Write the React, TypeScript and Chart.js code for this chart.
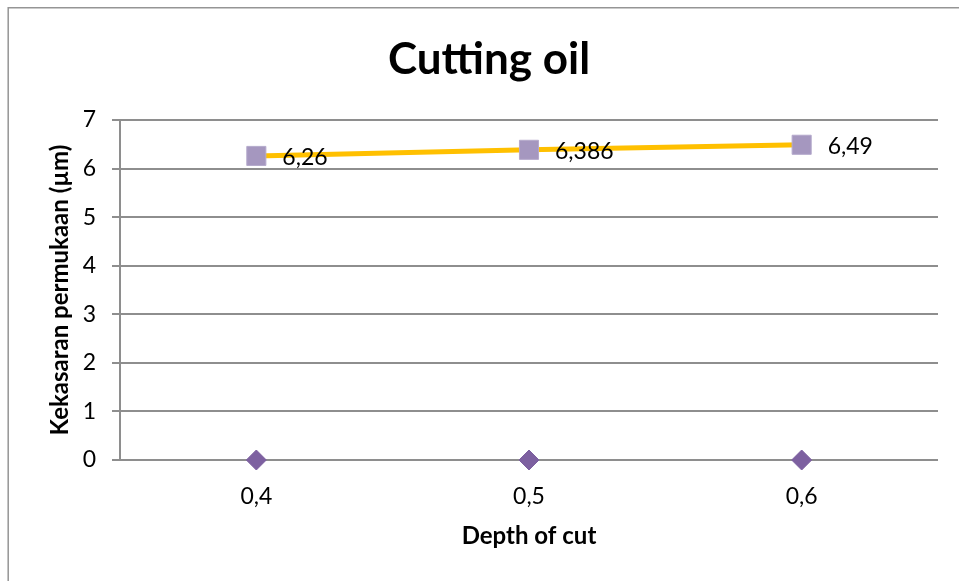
import React, { useEffect, useRef } from "react";
import { Chart, registerables } from "chart.js";

Chart.register(...registerables);

const categories = ["0,4", "0,5", "0,6"];
const seriesBase = [0, 0, 0];
const seriesCuttingOil = [6.26, 6.386, 6.49];
const chartTitle = "Cutting oil";
const xAxisTitle = "Depth of cut";
const yAxisTitle = "Kekasaran permukaan (µm)";
const yMin = 0;
const yMax = 7;
const yStep = 1;

const FONT = "Lato, 'Open Sans', 'DejaVu Sans', sans-serif";
const GRID = "#8e8e8e";

const fmt = (v: number) => String(v).replace(".", ",");

const framePlugin = {
  id: "frame",
  beforeDraw(chart: any) {
    const ctx = chart.ctx;
    ctx.save();
    ctx.fillStyle = "#ffffff";
    ctx.fillRect(0, 0, chart.width, chart.height);
    ctx.strokeStyle = "#959595";
    ctx.lineWidth = 1.5;
    ctx.beginPath();
    ctx.moveTo(8.2, chart.height + 5);
    ctx.lineTo(8.2, 7.7);
    ctx.lineTo(chart.width + 5, 7.7);
    ctx.stroke();
    ctx.restore();
  },
};

const labelPlugin = {
  id: "valueLabels",
  afterDatasetsDraw(chart: any) {
    const ctx = chart.ctx;
    const meta = chart.getDatasetMeta(1);
    const data = chart.data.datasets[1].data as number[];
    ctx.save();
    ctx.font = `23px ${FONT}`;
    ctx.fillStyle = "#000000";
    ctx.textAlign = "left";
    ctx.textBaseline = "middle";
    meta.data.forEach((pt: any, i: number) => {
      ctx.fillText(fmt(data[i]), pt.x + 26, pt.y + 2);
    });
    ctx.restore();
  },
};

export default function App() {
  const ref = useRef<HTMLCanvasElement | null>(null);

  useEffect(() => {
    if (!ref.current) return;
    const chart = new Chart(ref.current, {
      type: "line",
      data: {
        labels: categories,
        datasets: [
          {
            label: "Series1",
            data: seriesBase,
            showLine: false,
            clip: false,
            pointStyle: "rectRot",
            pointRadius: 10,
            pointHoverRadius: 10,
            pointBackgroundColor: "#7d60a0",
            pointBorderColor: "#7d60a0",
            pointBorderWidth: 1,
            borderColor: "#7d60a0",
          },
          {
            label: "Cutting oil",
            data: seriesCuttingOil,
            clip: false,
            borderColor: "#ffc000",
            borderWidth: 5,
            tension: 0,
            pointStyle: "rect",
            pointRadius: 13.5,
            pointHoverRadius: 13.5,
            pointBackgroundColor: "#a597bf",
            pointBorderColor: "#b5aacc",
            pointBorderWidth: 1,
          },
        ],
      },
      options: {
        animation: false,
        responsive: false,
        devicePixelRatio: 1,
        events: [],
        layout: { padding: 0 },
        plugins: {
          legend: { display: false },
          tooltip: { enabled: false },
          title: {
            display: true,
            text: chartTitle,
            color: "#000000",
            font: { family: FONT, size: 44, weight: "bold" },
            padding: { top: 33.6, bottom: 33.6 },
          },
        },
        scales: {
          x: {
            type: "category",
            offset: true,
            grid: { display: false, drawTicks: false },
            border: { display: false },
            ticks: {
              color: "#000000",
              font: { family: FONT, size: 23 },
              padding: 23.2,
              maxRotation: 0,
            },
            title: {
              display: true,
              text: xAxisTitle,
              color: "#000000",
              font: { family: FONT, size: 24, weight: "bold" },
              padding: { top: 0, bottom: 30.6 },
            },
            afterFit: (s: any) => {
              s.height = 121;
            },
          },
          y: {
            type: "linear",
            position: "left",
            min: yMin,
            max: yMax,
            ticks: {
              stepSize: yStep,
              color: "#000000",
              font: { family: FONT, size: 23 },
              padding: 16,
            },
            grid: {
              color: GRID,
              lineWidth: 2,
              drawTicks: true,
              tickLength: 8,
            },
            border: { display: true, color: GRID, width: 2 },
            title: {
              display: true,
              text: yAxisTitle,
              color: "#000000",
              font: { family: FONT, size: 24, weight: "bold" },
              padding: { top: 45.6, bottom: 0 },
            },
            afterFit: (s: any) => {
              s.width = 120;
            },
          },
          yRight: {
            type: "linear",
            position: "right",
            display: true,
            grid: { display: false, drawTicks: false },
            border: { display: false },
            ticks: { display: false },
            afterFit: (s: any) => {
              s.width = 40;
            },
          },
        },
      },
      plugins: [framePlugin, labelPlugin],
    } as any);
    return () => chart.destroy();
  }, []);

  return (
    <div
      style={{
        position: "fixed",
        left: 0,
        top: 0,
        width: 959,
        height: 581,
        overflow: "hidden",
        background: "#ffffff",
      }}
    >
      <canvas ref={ref} width={978} height={581} style={{ display: "block", width: 978, height: 581 }} />
    </div>
  );
}
